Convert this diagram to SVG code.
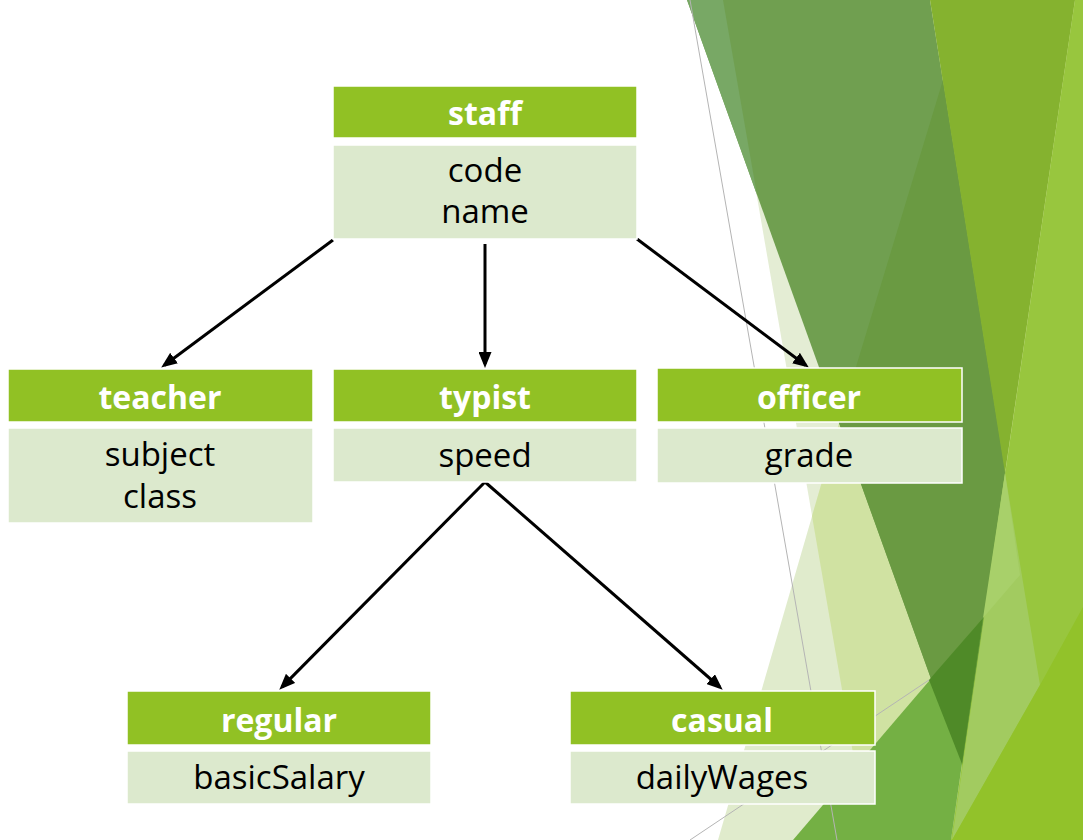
<svg xmlns="http://www.w3.org/2000/svg" width="1083" height="840" viewBox="0 0 1083 840">
<defs>
<style>
.hd{fill:#91c124;stroke:#ffffff;stroke-width:1.5}
.bd{fill:#dce9cd;stroke:#ffffff;stroke-width:1.5}
.ht{font-family:"Open Sans","DejaVu Sans",sans-serif;font-weight:bold;font-size:32px;fill:#ffffff;text-anchor:middle}
.bt{font-family:"Open Sans","DejaVu Sans",sans-serif;font-size:33px;fill:#000000;text-anchor:middle}
.cn{stroke:#000000;stroke-width:3;fill:none;marker-end:url(#ah)}
.gl{stroke:#b4b4b4;stroke-width:1;fill:none}
</style>
<marker id="ah" markerUnits="userSpaceOnUse" markerWidth="16" markerHeight="13" refX="12" refY="6.5" orient="auto">
<path d="M0,0 L16,6.5 L0,13 z" fill="#000000"/>
</marker>
</defs>
<rect x="0" y="0" width="1083" height="840" fill="#ffffff"/>
<g id="background">
<polygon points="723,0 1083,0 1083,840 868,840" fill="#e4edd4"/>
<polygon points="962,0 1083,0 1083,840 718,840" fill="#e0ebcc"/>
<polygon points="962,0 1083,0 1083,840 868,840 812,516" fill="#d0e2a2"/>
<polygon points="687,0 930,0 1064,840 989,840" fill="#709f50"/>
<polygon points="687,0 723,0 757,195" fill="#78a865"/>
<polygon points="943,80 839,423 989,840 1064,840" fill="#6a9a42"/>
<polygon points="930,0 1075,0 1005,473" fill="#85b22f"/>
<polygon points="1075,0 1083,0 1083,840 951,840" fill="#98c63e"/>
<polygon points="1005,473 1040,685 952,840" fill="#a2cb60"/>
<polygon points="1005,473 1020,575 983,618" fill="#a8d06a"/>
<polygon points="1083,607 1083,840 952,840 1040,685" fill="#92c22a"/>
<polygon points="983,618 951,840 793,840" fill="#74b044"/>
<polygon points="929,680 983,618 962,764" fill="#4f8a28"/>
<line class="gl" x1="690" y1="0" x2="837" y2="840"/>
<line class="gl" x1="690" y1="840" x2="929" y2="680"/>
</g>
<g id="connectors">
<line class="cn" x1="333" y1="240" x2="164.4" y2="365.2"/>
<line class="cn" x1="485" y1="244" x2="485" y2="364"/>
<line class="cn" x1="637" y1="239" x2="805.6" y2="365.2"/>
<line class="cn" x1="485" y1="482" x2="282.1" y2="686.9"/>
<line class="cn" x1="485" y1="482" x2="719.7" y2="687"/>
</g>
<g id="staff">
<rect class="hd" x="333" y="86" width="304" height="52"/>
<rect class="bd" x="333" y="145" width="304" height="94"/>
<text class="ht" x="485" y="125">staff</text>
<text class="bt" x="485" y="182">code</text>
<text class="bt" x="485" y="223">name</text>
</g>
<g id="teacher">
<rect class="hd" x="8" y="369" width="305" height="53"/>
<rect class="bd" x="8" y="428" width="305" height="95"/>
<text class="ht" x="160" y="409">teacher</text>
<text class="bt" x="160" y="466">subject</text>
<text class="bt" x="160" y="508">class</text>
</g>
<g id="typist">
<rect class="hd" x="333" y="369" width="304" height="53"/>
<rect class="bd" x="333" y="428" width="304" height="54"/>
<text class="ht" x="485" y="409">typist</text>
<text class="bt" x="485" y="467">speed</text>
</g>
<g id="officer">
<rect class="hd" x="657" y="368" width="305" height="54"/>
<rect class="bd" x="657" y="428" width="305" height="55"/>
<text class="ht" x="809" y="409">officer</text>
<text class="bt" x="809" y="467">grade</text>
</g>
<g id="regular">
<rect class="hd" x="127" y="691" width="304" height="54"/>
<rect class="bd" x="127" y="751" width="304" height="53"/>
<text class="ht" x="279" y="732">regular</text>
<text class="bt" x="279" y="789">basicSalary</text>
</g>
<g id="casual">
<rect class="hd" x="570" y="691" width="305" height="54"/>
<rect class="bd" x="570" y="751" width="305" height="53"/>
<text class="ht" x="722" y="732">casual</text>
<text class="bt" x="722" y="789">dailyWages</text>
</g>
</svg>
